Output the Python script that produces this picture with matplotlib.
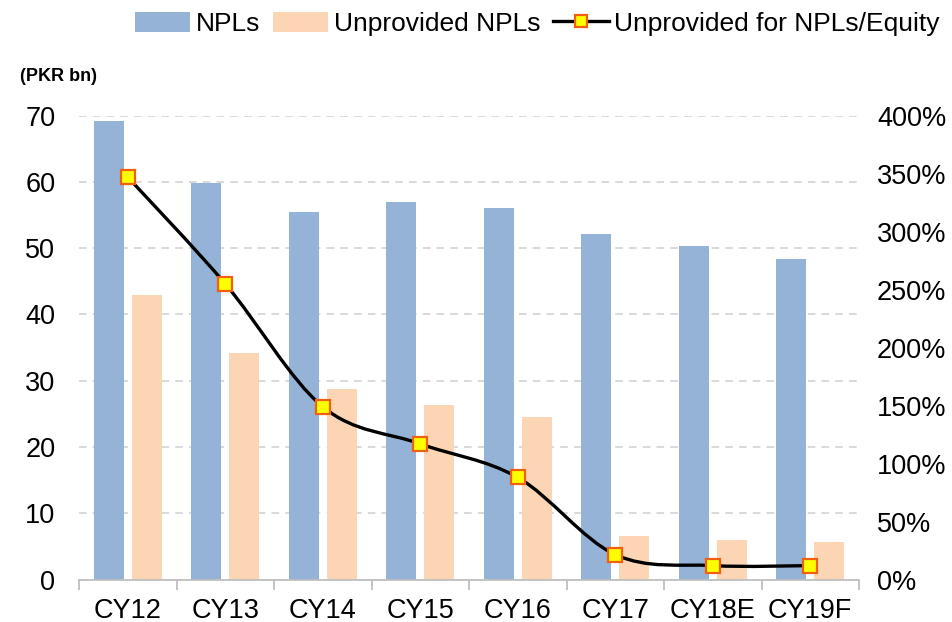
import numpy as np
import matplotlib.pyplot as plt
from matplotlib.path import Path
from matplotlib.patches import PathPatch, Patch
from matplotlib.lines import Line2D

plt.rcParams["font.family"] = ["Liberation Sans", "DejaVu Sans"]

categories = ["CY12", "CY13", "CY14", "CY15", "CY16", "CY17", "CY18E", "CY19F"]
npls = [69.2, 59.9, 55.5, 56.9, 56.1, 52.2, 50.4, 48.4]
unprovided = [43.0, 34.2, 28.8, 26.4, 24.6, 6.5, 6.0, 5.7]
unprov_equity = [347, 255, 149, 117, 88, 21.5, 12, 12]  # percent

BLUE = "#95B3D7"
PEACH = "#FCD5B5"


def smooth_path(xs, ys):
    # Excel-style smoothed line: Catmull-Rom converted to cubic Bezier
    pts = np.column_stack([xs, ys]).astype(float)
    n = len(pts)
    verts = [pts[0]]
    codes = [Path.MOVETO]
    for i in range(n - 1):
        p0 = pts[max(i - 1, 0)]
        p1 = pts[i]
        p2 = pts[i + 1]
        p3 = pts[min(i + 2, n - 1)]
        c1 = p1 + (p2 - p0) / 6.0
        c2 = p2 - (p3 - p1) / 6.0
        verts += [c1, c2, p2]
        codes += [Path.CURVE4] * 3
    return Path(verts, codes)


fig = plt.figure(figsize=(9.53, 6.22), dpi=100)
ax = fig.add_axes([0.0829, 0.0683, 0.8185, 0.7457])
x = np.arange(len(categories))
w = 0.31
ax.bar(x - 0.195, npls, w, color=BLUE, zorder=2)
ax.bar(x + 0.195, unprovided, w, color=PEACH, zorder=2)

ax.set_xlim(-0.5, len(categories) - 0.5)
ax.set_ylim(0, 70)
ax.set_yticks(range(0, 71, 10))
ax.yaxis.grid(True, color="#D0D0D0", linestyle=(0, (5, 4)), linewidth=1.1, zorder=0)
ax.set_axisbelow(True)
for s in ["top", "right", "left"]:
    ax.spines[s].set_visible(False)
ax.spines["bottom"].set_color("#BFBFBF")
ax.spines["bottom"].set_linewidth(1.3)
ax.set_xticks(x)
ax.set_xticklabels(categories)
ax.set_xticks(np.arange(-0.5, len(categories), 1), minor=True)
ax.tick_params(axis="x", which="major", length=0, labelsize=19.5, pad=13)
ax.tick_params(axis="x", which="minor", length=7, color="#BFBFBF", width=1.3)
ax.tick_params(axis="y", length=0, labelsize=19.5, pad=17)

ax2 = ax.twinx()
ax2.set_ylim(0, 400)
ax2.set_yticks(range(0, 401, 50))
ax2.set_yticklabels([f"{v}%" for v in range(0, 401, 50)])
ax2.tick_params(axis="y", length=0, labelsize=19.5, pad=13)
for s in ax2.spines.values():
    s.set_visible(False)
ax2.add_patch(PathPatch(smooth_path(x, unprov_equity), fill=False,
                        edgecolor="black", linewidth=2.4, zorder=3))
ax2.plot(x, unprov_equity, linestyle="none", marker="s", markersize=9.5,
         markerfacecolor="#FFFF00", markeredgecolor="#F06010",
         markeredgewidth=1.6, zorder=4)

fig.text(0.021, 0.877, "(PKR bn)", fontsize=13, fontweight="bold", va="center")

handles = [
    Patch(facecolor=BLUE, edgecolor="none"),
    Patch(facecolor=PEACH, edgecolor="none"),
    Line2D([], [], color="black", linewidth=2.4, marker="s", markersize=9,
           markerfacecolor="#FFFF00", markeredgecolor="#F06010", markeredgewidth=1.6),
]
fig.legend(handles, ["NPLs", "Unprovided NPLs", "Unprovided for NPLs/Equity"],
           loc="center right", bbox_to_anchor=(0.997, 0.962), ncol=3, frameon=False,
           fontsize=19, handlelength=2.1, handleheight=0.8, handletextpad=0.2,
           columnspacing=0.5, borderaxespad=0)

fig.savefig("out.png", dpi=100)
